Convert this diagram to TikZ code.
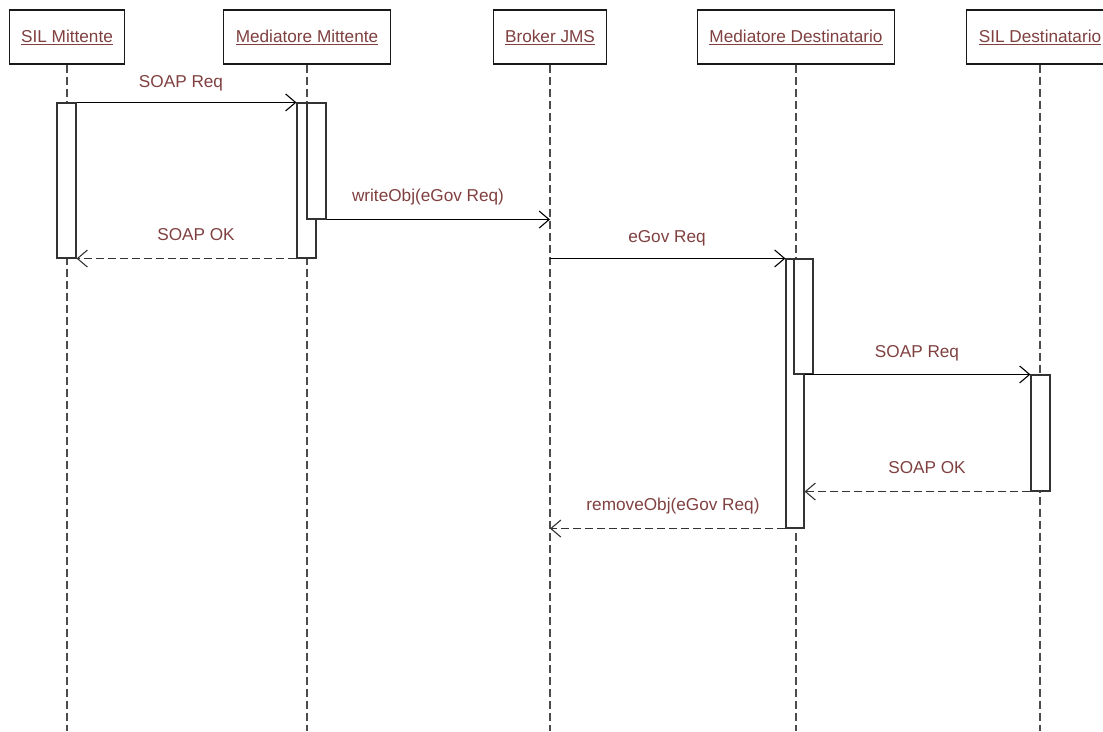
\documentclass[tikz,border=0pt]{standalone}
\usepackage{fontspec}
\setmainfont{Liberation Sans}
\usetikzlibrary{arrows.meta}
\definecolor{msgred}{RGB}{128,64,64}

\begin{document}
\begin{tikzpicture}
  [
    x=1pt, y=-1pt,
    lifebox/.style={draw=black!90, line width=1.1pt, fill=white, inner xsep=12pt,
      minimum height=54pt, text=msgred, font=\fontsize{17.2}{20}\selectfont},
    lifeline/.style={draw=black!70, line width=1.1pt, dash pattern=on 8pt off 4pt},
    actbox/.style={draw=black!80, line width=1.1pt, fill=white, minimum width=19pt, inner sep=0pt},
    msg/.style={line width=1.1pt, -{Straight Barb[length=10pt, width=17pt]}},
    reply/.style={msg, draw=black!80, dash pattern=on 8pt off 4pt},
    msglabel/.style={anchor=base, text=msgred, font=\fontsize{17.2}{20}\selectfont}
  ]
  \useasboundingbox (0,0) rectangle (1103,731);
  % participants
  \node [lifebox] (silm) at (67,37) {\underline{SIL Mittente}};
  \node [lifebox] (medm) at (307,37) {\underline{Mediatore Mittente}};
  \node [lifebox] (broker) at (550,37) {\underline{Broker JMS}};
  \node [lifebox] (medd) at (796,37) {\underline{Mediatore Destinatario}};
  \node [lifebox] (sild) at (1040,37) {\underline{SIL Destinatario}};
  % lifelines
  \coordinate (bottom) at (0,731);
  \foreach \p in {silm,medm,broker,medd,sild} {
      \draw [lifeline] (\p.south) -- (\p.south |- bottom);
  }
  % activations
  \node [actbox, minimum height=155pt] (silmact) at (66.5,180.5) {};
  \node [actbox, minimum height=155pt] (medmact) at (306.5,180.5) {};
  \node [actbox, minimum height=116pt] (medmsub) at (316.5,161) {};
  \node [actbox, minimum width=18pt, minimum height=269pt] (meddact) at (795,393.5) {};
  \node [actbox, minimum height=115pt] (meddsub) at (803.5,316.5) {};
  \node [actbox, minimum height=116pt] (sildact) at (1040.5,433) {};
  % messages
  \draw [msg] (silmact.north east) -- (medmact.north west);
  \draw [msg] (medmsub.south east) -- (medmsub.south east -| broker.south);
  \draw [reply] (medmact.south west) -- (silmact.south east);
  \draw [msg] (meddact.north west -| broker.south) -- (meddact.north west);
  \draw [msg] (sildact.north west -| meddact.east) -- (sildact.north west);
  \draw [reply] (sildact.south west) -- (sildact.south west -| meddact.east);
  \draw [reply] (meddact.south west) -- (meddact.south west -| broker.south);
  % labels
  \node [msglabel] (req1) at (181,87) {SOAP Req};
  \node [msglabel] (write) at (428,201) {writeObj(eGov Req)};
  \node [msglabel] (ok1) at (196,240) {SOAP OK};
  \node [msglabel] (egov) at (667,242) {eGov Req};
  \node [msglabel] (req2) at (917,357) {SOAP Req};
  \node [msglabel] (ok2) at (927,473) {SOAP OK};
  \node [msglabel] (remove) at (673,510) {removeObj(eGov Req)};
\end{tikzpicture}
\end{document}
